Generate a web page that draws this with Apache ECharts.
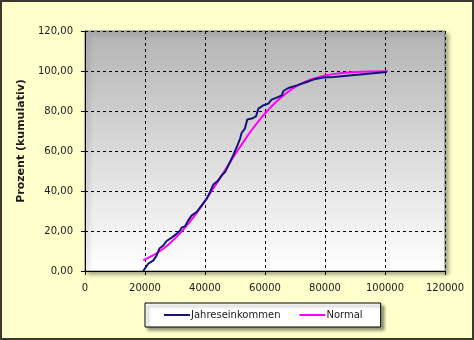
<!DOCTYPE html>
<html>
<head>
<meta charset="utf-8">
<script src="https://cdn.jsdelivr.net/npm/echarts@6/dist/echarts.min.js"></script>
<style>
html,body{margin:0;padding:0;background:#ffffcc;}
#c{width:474px;height:340px;box-sizing:border-box;border:2px solid #3a3a2c;}
</style>
</head>
<body>
<div id="c"></div>
<script>
// Jahreseinkommen (empirical cumulative %), x = income
var incomeX = [19400,21100,22800,23900,24800,26100,27200,28900,30600,31700,32200,33300,34400,35600,37200,38900,40600,41700,42800,44400,45600,46700,47800,49400,50600,51700,52200,53300,54100,55600,57000,57800,59400,61100,62200,63900,65600,66100,67800,70600,73900,76100,79400,82800,91700,100600];
var incomePct = [0,3.7,5.3,7.8,11.2,12.8,15,16.7,18.7,20.3,21.7,22.3,25.3,27.8,29.5,32.8,36.2,39.5,43.3,45.3,47.8,49.5,52.8,57.8,62,66.2,69,71.2,75.7,76.2,77.3,81.2,82.8,83.7,85.7,86.7,87.8,90,91.5,92.8,94.5,95.7,96.7,97,98.3,99.5];
// Normal (fitted cumulative %)
var normalX = [19400,22000,25000,28000,31000,34000,37000,40000,43000,46000,49000,52000,55000,58000,61000,64000,67000,70000,73000,76000,80000,85000,90000,95000,101000];
var normalPct = [5.4,7.3,10,13.5,17.8,22.9,28.6,35,41.8,48.8,55.9,62.7,69.3,75.2,80.4,85,88.8,91.9,94.3,96.1,97.7,98.9,99.5,99.8,99.9];
var seriesNames = ['Jahreseinkommen','Normal'];
var xTickLabels = ['0','20000','40000','60000','80000','100000','120000'];
var yTickLabels = ['0,00','20,00','40,00','60,00','80,00','100,00','120,00'];
var yAxisTitle = 'Prozent (kumulativ)';

function pairs(xs, ys){ return xs.map(function(x,i){ return [x, ys[i]]; }); }

var chart = echarts.init(document.getElementById('c'));
var txt = '#1a1a1a';
var font = 'DejaVu Sans';
chart.setOption({
  backgroundColor: '#ffffcc',
  animation: false,
  grid: {
    left: 83, right: 27, top: 29, bottom: 67,
    show: true,
    borderColor: '#7a7a7a', borderWidth: 1,
    backgroundColor: new echarts.graphic.LinearGradient(0,0,0,1,[
      {offset:0,color:'#b3b3b3'},{offset:0.5,color:'#dadada'},{offset:1,color:'#ffffff'}
    ]),
    shadowColor: 'rgba(0,0,0,0.35)', shadowBlur: 4, shadowOffsetX: 3, shadowOffsetY: 3
  },
  legend: {
    data: seriesNames,
    icon: 'rect',
    left: 143, top: 301,
    padding: [6, 18, 6, 19],
    itemGap: 19,
    itemWidth: 26, itemHeight: 2,
    backgroundColor: '#ffffff',
    borderColor: '#000000', borderWidth: 1, borderRadius: 0,
    shadowColor: 'rgba(0,0,0,0.4)', shadowBlur: 3, shadowOffsetX: 3, shadowOffsetY: 3,
    textStyle: { color: txt, fontFamily: font, fontSize: 10, padding: [0,0,0,-4], lineHeight: 12 }
  },
  xAxis: {
    type: 'value', min: 0, max: 120000, interval: 20000,
    axisLine: { show: true, onZero: false, lineStyle: { color: '#000', width: 1 } },
    axisTick: { show: true, length: 4, inside: false, lineStyle: { color: '#000' } },
    axisLabel: { color: txt, fontFamily: font, fontSize: 10, margin: 12,
      formatter: function(v){ return xTickLabels[Math.round(v/20000)]; } },
    splitLine: { show: true, lineStyle: { color: '#000', type: [3,3], width: 1 } }
  },
  yAxis: {
    type: 'value', min: 0, max: 120, interval: 20,
    name: yAxisTitle, nameLocation: 'middle', nameGap: 57,
    nameTextStyle: { color: txt, fontFamily: font, fontSize: 11, fontWeight: 'bold', padding: [0,0,0,20] },
    axisLine: { show: true, lineStyle: { color: '#000', width: 1 } },
    axisTick: { show: true, length: 4, lineStyle: { color: '#000' } },
    axisLabel: { color: txt, fontFamily: font, fontSize: 10, margin: 12,
      formatter: function(v){ return yTickLabels[Math.round(v/20)]; } },
    splitLine: { show: true, lineStyle: { color: '#000', type: [3,3], width: 1 } }
  },
  series: [
    { name: seriesNames[0], type: 'line', symbol: 'none', data: pairs(incomeX, incomePct),
      lineStyle: { color: '#14147a', width: 2 }, itemStyle: { color: '#14147a' }, z: 3 },
    { name: seriesNames[1], type: 'line', symbol: 'none', smooth: true, data: pairs(normalX, normalPct),
      lineStyle: { color: '#ff00ff', width: 2 }, itemStyle: { color: '#ff00ff' }, z: 2 }
  ]
});
</script>
</body>
</html>
